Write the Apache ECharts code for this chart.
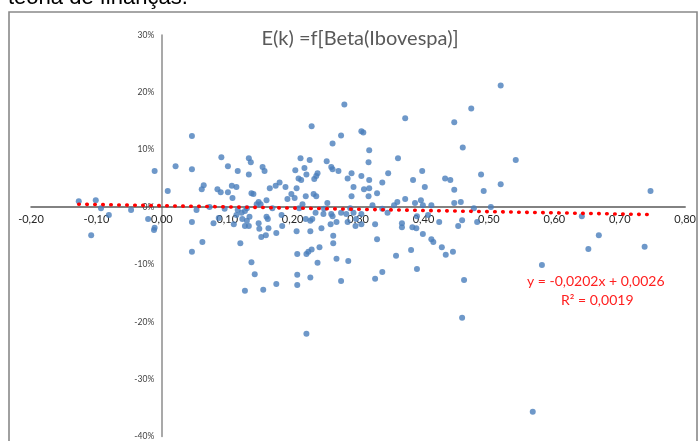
<!DOCTYPE html>
<html>
<head>
<meta charset="utf-8">
<script src="https://cdn.jsdelivr.net/npm/echarts@6/dist/echarts.min.js"></script>
<style>
  html, body { margin: 0; padding: 0; background: #fff; }
  #chart { width: 699px; height: 441px; }
</style>
</head>
<body>
<div id="chart"></div>
<script>
// beta (x) and return (y) of each stock
var points = [
  [-0.127, 0.010], [-0.101, 0.012], [-0.093, -0.002], [-0.081, -0.014], [-0.108, -0.049],
  [-0.047, -0.005], [-0.021, -0.021], [-0.012, -0.040], [-0.011, -0.036], [-0.011, 0.063],
  [0.009, 0.028], [0.021, 0.071], [0.046, 0.124], [0.046, 0.066], [0.046, -0.026],
  [0.046, -0.078], [0.053, -0.005], [0.061, 0.031], [0.064, 0.038], [0.062, -0.061],
  [0.073, 0.000], [0.079, -0.028], [0.085, 0.031], [0.090, 0.026], [0.087, -0.019],
  [0.091, 0.087], [0.096, -0.003], [0.101, 0.026], [0.101, 0.071],
  [0.107, 0.037], [0.114, 0.035], [0.108, 0.016], [0.110, -0.030], [0.116, 0.063],
  [0.116, -0.005], [0.120, -0.063], [0.114, -0.014], [0.127, -0.007], [0.130, -0.002],
  [0.123, -0.021], [0.130, -0.024], [0.134, -0.017], [0.122, -0.010], [0.127, -0.033],
  [0.133, -0.033], [0.133, 0.085], [0.136, 0.078], [0.133, 0.057], [0.137, 0.024],
  [0.140, 0.023], [0.137, -0.096], [0.142, -0.117], [0.127, -0.146], [0.145, 0.005],
  [0.148, 0.009], [0.151, 0.005], [0.148, -0.028], [0.149, -0.038], [0.152, -0.052],
  [0.154, 0.070], [0.157, 0.063], [0.155, -0.144], [0.159, -0.049], [0.160, 0.012],
  [0.160, -0.017], [0.162, -0.021], [0.163, -0.037], [0.165, 0.033], [0.174, 0.037],
  [0.169, -0.002], [0.175, -0.045], [0.175, -0.134], [0.180, 0.043], [0.183, -0.014],
  [0.184, -0.033], [0.189, 0.035], [0.192, 0.014], [0.198, 0.023], [0.203, 0.016],
  [0.204, 0.064], [0.206, 0.033], [0.206, -0.042], [0.207, -0.082], [0.207, -0.118],
  [0.207, -0.136], [0.213, 0.047], [0.209, 0.050], [0.212, 0.085], [0.210, -0.002],
  [0.215, 0.005], [0.220, 0.019], [0.218, 0.068], [0.221, 0.057], [0.220, -0.021],
  [0.227, -0.024], [0.230, -0.021], [0.227, -0.042], [0.221, -0.082], [0.224, -0.078],
  [0.229, -0.074], [0.227, -0.123], [0.226, 0.082], [0.229, 0.141], [0.221, -0.221],
  [0.232, 0.023], [0.236, 0.019], [0.233, 0.049], [0.236, 0.054], [0.238, 0.059],
  [0.235, -0.010], [0.238, -0.097], [0.241, -0.070], [0.244, -0.037], [0.247, -0.012],
  [0.248, -0.003], [0.253, 0.007], [0.252, 0.080], [0.259, 0.070], [0.261, 0.066],
  [0.259, -0.012], [0.261, -0.016], [0.258, -0.030], [0.262, -0.050], [0.262, -0.063],
  [0.261, 0.111], [0.267, -0.026], [0.267, -0.090], [0.270, 0.063], [0.274, 0.125],
  [0.279, 0.179], [0.274, -0.129], [0.274, -0.010], [0.282, -0.012], [0.284, 0.050],
  [0.285, -0.094], [0.284, -0.026], [0.288, -0.002], [0.290, 0.059], [0.290, 0.019],
  [0.293, 0.035], [0.293, -0.010], [0.297, -0.021], [0.296, -0.033], [0.305, 0.054],
  [0.305, -0.012], [0.305, -0.030], [0.305, 0.132], [0.308, 0.130], [0.309, 0.031],
  [0.317, 0.033], [0.317, 0.047], [0.317, 0.099], [0.316, 0.078], [0.316, 0.019],
  [0.322, 0.003], [0.326, -0.030], [0.329, 0.024], [0.329, -0.056], [0.326, -0.125],
  [0.337, 0.043], [0.337, -0.003], [0.337, -0.113], [0.345, -0.010], [0.346, 0.059],
  [0.355, 0.003], [0.360, 0.009], [0.358, -0.085], [0.361, 0.085], [0.367, -0.028],
  [0.367, -0.035], [0.372, 0.155], [0.372, 0.014], [0.381, -0.075], [0.383, -0.035],
  [0.389, -0.037], [0.384, 0.047], [0.387, 0.007], [0.390, -0.016], [0.390, -0.108],
  [0.396, 0.012], [0.399, 0.003], [0.398, 0.063], [0.399, -0.047], [0.402, 0.035],
  [0.407, -0.014], [0.412, 0.003], [0.412, -0.056], [0.415, -0.061], [0.424, -0.026],
  [0.428, -0.070], [0.433, 0.050], [0.441, 0.047], [0.434, -0.083], [0.445, -0.078],
  [0.447, 0.148], [0.447, 0.030], [0.447, 0.007], [0.453, -0.033], [0.457, 0.009],
  [0.459, -0.023], [0.460, 0.104], [0.462, -0.127], [0.459, -0.193], [0.473, 0.172],
  [0.477, -0.002], [0.482, -0.026], [0.488, 0.057], [0.492, 0.028], [0.503, 0.000],
  [0.518, 0.040], [0.518, 0.212], [0.541, 0.082], [0.581, -0.101], [0.567, -0.357],
  [0.642, -0.016], [0.652, -0.073], [0.668, -0.049], [0.738, -0.069], [0.747, 0.028]
];

// ends of the linear trend line as drawn
var trendPoints = [[-0.127, 0.005], [0.742, -0.013]];

var titleText = "E(k) =f[Beta(Ibovespa)]";
var trendLabel = "y = -0,0202x + 0,0026";
var r2Label = "R² = 0,0019";
var captionAbove = "teoria de finanças.";

var myChart = echarts.init(document.getElementById("chart"));

var font = "Lato, 'Open Sans', sans-serif";

// grid box, the axes are shifted onto the zero lines with offset
var gridLeft = 31, gridRight = 12, gridTop = 35, gridBottom = 4;
var plotW = 699 - gridLeft - gridRight;
var plotH = 441 - gridTop - gridBottom;
var xMin = -0.2, xMax = 0.8, yMin = -0.4, yMax = 0.3;
var xAxisOffset = -(plotH * (0 - yMin) / (yMax - yMin));
var yAxisOffset = -(plotW * (0 - xMin) / (xMax - xMin));

myChart.setOption({
  animation: false,
  backgroundColor: "#fff",
  title: {
    text: titleText,
    left: 355,
    top: 24,
    textAlign: "center",
    textStyle: {
      fontFamily: font,
      fontSize: 20,
      fontWeight: "normal",
      color: "#595959"
    }
  },
  grid: {
    left: gridLeft,
    right: gridRight,
    top: gridTop,
    bottom: gridBottom
  },
  xAxis: {
    type: "value",
    min: xMin,
    max: xMax,
    interval: 0.1,
    offset: xAxisOffset,
    axisLine: {
      onZero: false,
      lineStyle: { color: "#595959", width: 1.5 }
    },
    axisTick: { show: false },
    splitLine: { show: false },
    axisLabel: {
      margin: 7,
      color: "#262626",
      fontFamily: font,
      fontSize: 11,
      formatter: function(v) {
        return v.toFixed(2).replace(".", ",");
      }
    }
  },
  yAxis: {
    type: "value",
    min: yMin,
    max: yMax,
    interval: 0.1,
    offset: yAxisOffset,
    axisLine: {
      show: true,
      onZero: false,
      lineStyle: { color: "#8c8c8c", width: 1.5 }
    },
    axisTick: { show: false },
    splitLine: { show: false },
    axisLabel: {
      margin: 8,
      color: "#404040",
      fontFamily: font,
      fontSize: 8.5,
      formatter: function(v) {
        return Math.round(v * 100) + "%";
      }
    }
  },
  series: [
    {
      type: "scatter",
      data: points,
      symbolSize: 6,
      itemStyle: { color: "#4a7ebb" },
      z: 2
    },
    {
      type: "line",
      data: trendPoints,
      symbol: "none",
      lineStyle: {
        color: "#ff0000",
        width: 3.6,
        type: [0.5, 7.5],
        cap: "round"
      },
      z: 3
    }
  ],
  graphic: [
    {
      type: "rect",
      shape: { x: 9, y: 12, width: 688, height: 450 },
      style: { fill: "none", stroke: "#898989", lineWidth: 1.6 }
    },
    {
      type: "text",
      left: 8,
      top: -13,
      style: {
        text: captionAbove,
        font: "22px 'Liberation Sans', Arial, sans-serif",
        fill: "#000"
      }
    },
    {
      type: "text",
      left: 527,
      top: 274,
      style: {
        text: trendLabel,
        font: "14px " + font,
        fill: "#ff2020"
      }
    },
    {
      type: "text",
      left: 561,
      top: 293,
      style: {
        text: r2Label,
        font: "14px " + font,
        fill: "#ff2020"
      }
    }
  ]
});
</script>
</body>
</html>
